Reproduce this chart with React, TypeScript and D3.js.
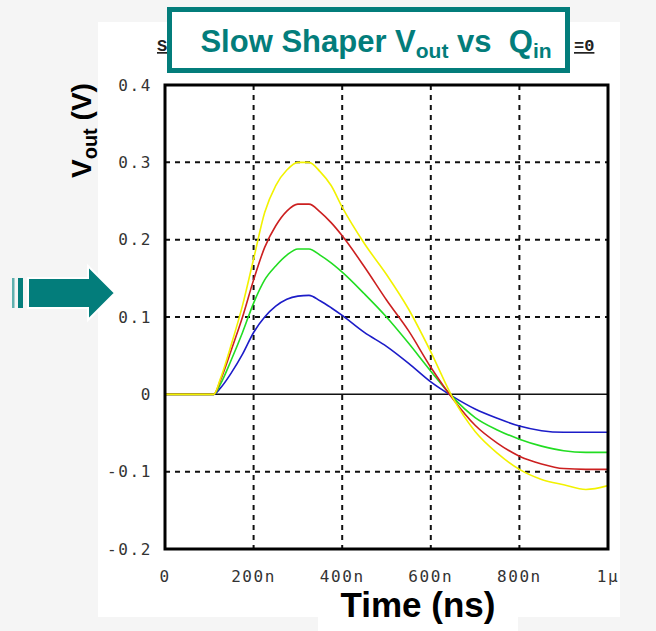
import React from "react";
import * as d3 from "d3";

const timesNs = [0, 50, 100, 110, 125, 150, 175, 200, 225, 250, 275, 300, 325, 350, 375, 400, 450, 500, 550, 600, 650, 700, 750, 800, 850, 900, 950, 1000];
const seriesBlue = [0, 0, 0, 0, 0.008, 0.028, 0.052, 0.08, 0.1, 0.114, 0.123, 0.127, 0.128, 0.121, 0.112, 0.102, 0.08, 0.062, 0.04, 0.016, -0.003, -0.019, -0.031, -0.041, -0.047, -0.049, -0.049, -0.049];
const seriesGreen = [0, 0, 0, 0, 0.013, 0.045, 0.08, 0.118, 0.148, 0.166, 0.18, 0.188, 0.188, 0.18, 0.17, 0.158, 0.13, 0.1, 0.066, 0.03, -0.004, -0.03, -0.046, -0.058, -0.067, -0.073, -0.075, -0.075];
const seriesRed = [0, 0, 0, 0, 0.018, 0.058, 0.1, 0.148, 0.19, 0.218, 0.237, 0.246, 0.246, 0.236, 0.222, 0.205, 0.165, 0.122, 0.082, 0.035, -0.006, -0.04, -0.063, -0.08, -0.09, -0.096, -0.097, -0.097];
const seriesYellow = [0, 0, 0, 0, 0.02, 0.065, 0.115, 0.175, 0.235, 0.27, 0.29, 0.3, 0.3, 0.288, 0.27, 0.242, 0.195, 0.155, 0.11, 0.055, -0.005, -0.048, -0.076, -0.097, -0.11, -0.117, -0.123, -0.118];

const seriesNames = ["blue", "green", "red", "yellow"];
const seriesColors = ["#1c1cc8", "#22dd22", "#cc2020", "#f2f200"];

const xTickValues = [0, 200, 400, 600, 800, 1000];
const xTickLabels = ["0", "200n", "400n", "600n", "800n", "1µ"];
const yTickValues = [0.4, 0.3, 0.2, 0.1, 0, -0.1, -0.2];
const yTickLabels = ["0.4", "0.3", "0.2", "0.1", "0", "-0.1", "-0.2"];

export default function App() {
  React.useEffect(() => {
    document.body.style.margin = "0";
  }, []);

  const W = 656, H = 631;
  const x = d3.scaleLinear().domain([0, 1000]).range([165, 608]);
  const y = d3.scaleLinear().domain([-0.2, 0.4]).range([549, 85]);
  const allSeries = [seriesBlue, seriesGreen, seriesRed, seriesYellow];
  const line = d3
    .line<number>()
    .x((_, i) => x(timesNs[i]))
    .y((d) => y(d))
    .curve(d3.curveMonotoneX);

  const teal = "#037d7b";
  const mono = "'DejaVu Sans Mono', monospace";
  const lmono = "'Liberation Mono', monospace";
  const sans = "Arial, 'Liberation Sans', sans-serif";

  return (
    <svg width={W} height={H} style={{ display: "block", background: "#f5f5f5" }}>
      <rect x={98} y={22} width={522} height={595} fill="#ffffff" />
      <rect x={318} y={570} width={200} height={61} fill="#ffffff" />

      {/* fragments of the original underlying title, visible beside the box */}
      <text x={157} y={51} fontFamily={lmono} fontWeight="bold" fontSize={17} fill="#222" textDecoration="underline">
        S
      </text>
      <text x={574} y={51} fontFamily={lmono} fontWeight="bold" fontSize={17} fill="#222" textDecoration="underline">
        =0
      </text>

      <defs>
        <clipPath id="plotClip">
          <rect x={165} y={85} width={443} height={464} />
        </clipPath>
      </defs>

      {/* grid */}
      {xTickValues.slice(1, -1).map((t) => (
        <line key={"gx" + t} x1={x(t)} x2={x(t)} y1={85} y2={549} stroke="#111" strokeWidth={2} strokeDasharray="5,5" />
      ))}
      {yTickValues.filter((v) => v !== 0 && v !== 0.4 && v !== -0.2).map((v) => (
        <line key={"gy" + v} x1={165} x2={608} y1={y(v)} y2={y(v)} stroke="#111" strokeWidth={2} strokeDasharray="5,5" />
      ))}
      <line x1={165} x2={608} y1={y(0)} y2={y(0)} stroke="#111" strokeWidth={1.5} />

      {/* curves */}
      <g clipPath="url(#plotClip)">
        {allSeries.map((s, i) => (
          <path key={seriesNames[i]} d={line(s) || ""} fill="none" stroke={seriesColors[i]} strokeWidth={1.6} />
        ))}
      </g>

      {/* frame */}
      <rect x={165} y={85} width={443} height={464} fill="none" stroke="#000" strokeWidth={3} />

      {/* tick labels */}
      {yTickValues.map((v, i) => (
        <text key={"yl" + v} x={152} y={y(v)} dy="0.35em" textAnchor="end" fontFamily={mono} fontSize={16} letterSpacing={1.6} fill="#333">
          {yTickLabels[i]}
        </text>
      ))}
      {xTickValues.map((t, i) => (
        <text key={"xl" + t} x={x(t)} y={576} dy="0.35em" textAnchor="middle" fontFamily={mono} fontSize={16} letterSpacing={1.6} fill="#333">
          {xTickLabels[i]}
        </text>
      ))}

      {/* axis titles */}
      <text x={418} y={617} textAnchor="middle" fontFamily={sans} fontWeight="bold" fontSize={35} fill="#000">
        Time (ns)
      </text>
      <text transform="translate(91,178) rotate(-90)" fontFamily={sans} fontWeight="bold" fontSize={28} fill="#000" style={{ whiteSpace: "pre" }}>
        V<tspan fontSize={20} dy={6}>out</tspan>
        <tspan dy={-6}> (V)</tspan>
      </text>

      {/* title box */}
      <rect x={169.5} y={9.5} width={398} height={61} fill="#ffffff" stroke={teal} strokeWidth={5} />
      <text x={376} y={52} textAnchor="middle" fontFamily={sans} fontWeight="bold" fontSize={31} fill={teal} style={{ whiteSpace: "pre" }}>
        Slow Shaper V<tspan fontSize={21} dy={6}>out</tspan>
        <tspan dy={-6}> vs  Q</tspan>
        <tspan fontSize={21} dy={6}>in</tspan>
      </text>

      {/* arrow */}
      <rect x={12} y={278} width={2.5} height={30} fill="#5fb0ae" />
      <rect x={18} y={278} width={5} height={30} fill={teal} />
      <polygon
        points="28,278 88,278 88,266 115,293 88,320 88,308 28,308"
        fill={teal}
        stroke="#ffffff"
        strokeWidth={2}
      />
    </svg>
  );
}
